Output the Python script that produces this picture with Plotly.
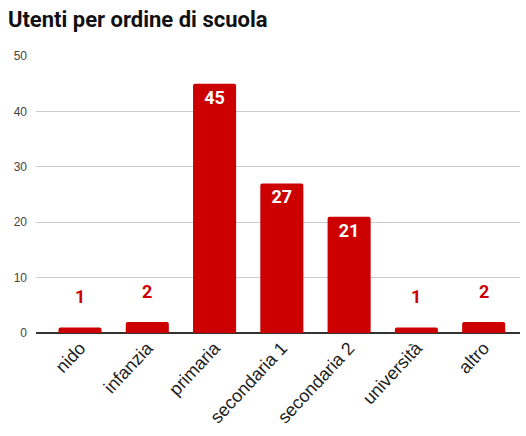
import plotly.graph_objects as go

categories = ["nido", "infanzia", "primaria", "secondaria 1", "secondaria 2", "università", "altro"]
values = [1, 2, 45, 27, 21, 1, 2]
y_ticks = [0, 10, 20, 30, 40, 50]

RED = "#cc0000"
inside_threshold = 10

fig = go.Figure()
fig.add_trace(go.Bar(
    x=categories, y=values,
    marker=dict(color=RED, line=dict(width=0)),
    width=0.64,
    text=[str(v) if v >= inside_threshold else "" for v in values],
    textposition="inside",
    insidetextanchor="end",
    textangle=0,
    constraintext="none",
    textfont=dict(family="Roboto", size=18, color="white", weight="bold"),
    hoverinfo="x+y",
))

for c, v in zip(categories, values):
    if v < inside_threshold:
        fig.add_annotation(x=c, y=v, text=f"<b>{v}</b>", showarrow=False,
                           yanchor="bottom", yshift=18,
                           font=dict(family="Roboto", size=18, color=RED))

fig.update_layout(
    width=526, height=436,
    margin=dict(l=36, r=6, t=56, b=103),
    paper_bgcolor="white", plot_bgcolor="white",
    barcornerradius=2,
    showlegend=False,
    title=dict(text="<b>Utenti per ordine di scuola</b>", x=0.015, xanchor="left",
               y=0.955, yanchor="middle",
               font=dict(family="Roboto", size=22, color="#111")),
    xaxis=dict(range=[-0.654, 6.54], tickangle=-47, showgrid=False,
               tickfont=dict(family="Liberation Sans, Arial", size=18, color="#222"),
               ticks="", showline=False),
    yaxis=dict(range=[0, 50], tickvals=y_ticks, showgrid=True, gridcolor="#cccccc",
               gridwidth=1, zeroline=True, zerolinecolor="#333333", zerolinewidth=1.5,
               tickfont=dict(family="Liberation Sans, Arial", size=12, color="#444"),
               ticks="", ticklabelstandoff=8),
)

fig.write_html("out.html",
               config={"displayModeBar": False},
               post_script="document.body.style.margin='0';document.body.style.overflow='hidden';")
